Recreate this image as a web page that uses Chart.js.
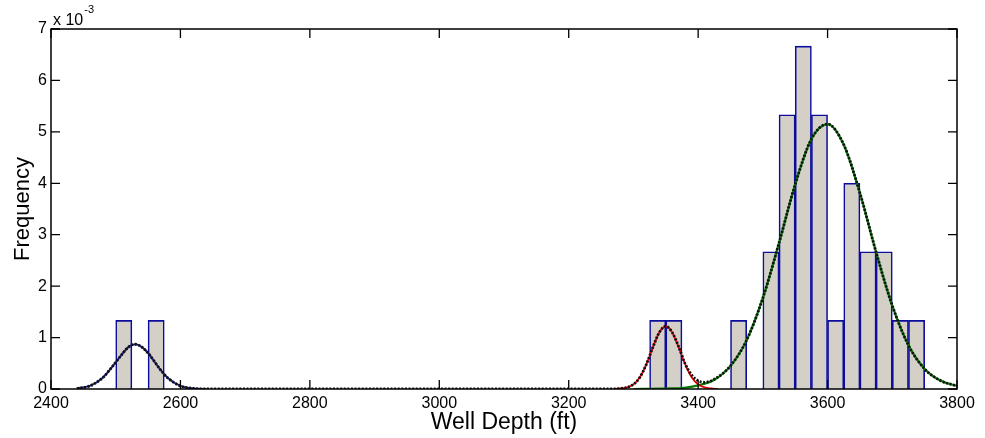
<!DOCTYPE html>
<html>
<head>
<meta charset="utf-8">
<script src="https://cdn.jsdelivr.net/npm/chart.js@4"></script>
<style>
  body { margin: 0; background: #fff; }
</style>
</head>
<body>
<canvas id="depthChart" width="985" height="438"></canvas>
<script>
// histogram bins (ft), frequency in units of 1e-3
const binWidth = 25;
const binStarts = [2500, 2550, 3325, 3350, 3450, 3500, 3525, 3550, 3575, 3600, 3625, 3650, 3675, 3700, 3725];
const binFreq = [1.333, 1.333, 1.333, 1.333, 1.333, 2.667, 5.333, 6.667, 5.333, 1.333, 4.0, 2.667, 2.667, 1.333, 1.333];

// fitted curves
const mixDepth = [2440, 2460, 2480, 2500, 2510, 2520, 2530, 2540, 2550, 2560, 2570, 2580, 2600, 2620, 2640,
  3260, 3280, 3290, 3300, 3310, 3320, 3330, 3340, 3350, 3360, 3370, 3380, 3390, 3400, 3410,
  3425, 3450, 3475, 3500, 3525, 3550, 3575, 3600, 3625, 3650, 3675, 3700, 3725, 3750, 3775, 3800];
const mixFreq = [0.01, 0.06, 0.22, 0.52, 0.68, 0.82, 0.87, 0.82, 0.70, 0.53, 0.36, 0.22, 0.06, 0.01, 0,
  0, 0.01, 0.03, 0.09, 0.23, 0.48, 0.81, 1.10, 1.22, 1.10, 0.82, 0.49, 0.27, 0.16, 0.13,
  0.19, 0.45, 0.95, 1.77, 2.84, 3.98, 4.86, 5.15, 4.75, 3.81, 2.66, 1.62, 0.85, 0.39, 0.16, 0.06];

const comp1Depth = [2440, 2460, 2480, 2500, 2510, 2520, 2530, 2540, 2550, 2560, 2570, 2580, 2600, 2620, 2640];
const comp1Freq = [0.01, 0.06, 0.22, 0.52, 0.68, 0.82, 0.87, 0.82, 0.70, 0.53, 0.36, 0.22, 0.06, 0.01, 0];

const comp2Depth = [3270, 3280, 3290, 3300, 3310, 3320, 3330, 3340, 3350, 3360, 3370, 3380, 3390, 3400, 3410, 3420, 3430];
const comp2Freq = [0, 0.01, 0.03, 0.09, 0.23, 0.48, 0.81, 1.10, 1.22, 1.10, 0.81, 0.48, 0.23, 0.09, 0.03, 0.01, 0];

const comp3Depth = [3300, 3350, 3375, 3400, 3425, 3450, 3475, 3500, 3525, 3550, 3575, 3600, 3625, 3650, 3675, 3700, 3725, 3750, 3775, 3800];
const comp3Freq = [0, 0.01, 0.02, 0.07, 0.18, 0.45, 0.95, 1.77, 2.84, 3.98, 4.86, 5.15, 4.75, 3.81, 2.66, 1.62, 0.85, 0.39, 0.16, 0.06];

const xTicks = [2400, 2600, 2800, 3000, 3200, 3400, 3600, 3800];
const yTicks = [0, 1, 2, 3, 4, 5, 6, 7];

const FONT = "'Liberation Sans', Arial, Helvetica, sans-serif";

function pairs(xs, ys) {
  return xs.map((x, i) => ({ x: x, y: ys[i] }));
}

function curve(xs, ys, color, width, order, dash) {
  return {
    type: "line",
    data: pairs(xs, ys),
    borderColor: color,
    borderWidth: width,
    borderDash: dash || [],
    pointRadius: 0,
    fill: false,
    cubicInterpolationMode: "monotone",
    order: order,
  };
}

// MATLAB style box with inward ticks on all four sides + exponent label
const boxPlugin = {
  id: "matlabBox",
  afterDatasetsDraw(chart) {
    const ctx = chart.ctx;
    const a = chart.chartArea;
    const xs = chart.scales.x;
    const ys = chart.scales.y;
    const len = 9;
    ctx.save();
    ctx.strokeStyle = "#000";
    ctx.lineWidth = 1.5;
    ctx.strokeRect(a.left, a.top, a.right - a.left, a.bottom - a.top);
    ctx.lineWidth = 1.3;
    ctx.beginPath();
    xTicks.forEach((v) => {
      const px = xs.getPixelForValue(v);
      ctx.moveTo(px, a.bottom);
      ctx.lineTo(px, a.bottom - len);
      ctx.moveTo(px, a.top);
      ctx.lineTo(px, a.top + len);
    });
    yTicks.forEach((v) => {
      const py = ys.getPixelForValue(v);
      ctx.moveTo(a.left, py);
      ctx.lineTo(a.left + len, py);
      ctx.moveTo(a.right, py);
      ctx.lineTo(a.right - len, py);
    });
    ctx.stroke();

    ctx.fillStyle = "#000";
    ctx.textBaseline = "alphabetic";
    ctx.textAlign = "left";
    ctx.font = "16px " + FONT;
    ctx.fillText("x 10", a.left + 2, a.top - 4);
    const w = ctx.measureText("x 10").width;
    ctx.font = "11px " + FONT;
    ctx.fillText("-3", a.left + 3 + w, a.top - 16);
    ctx.restore();
  },
};

const config = {
  type: "bar",
  data: {
    datasets: [
      {
        type: "bar",
        data: pairs(binStarts.map((s) => s + binWidth / 2), binFreq),
        backgroundColor: "#d4d0c8",
        borderColor: "#0c0c9c",
        borderWidth: 1.6,
        borderSkipped: "start",
        barPercentage: 1,
        categoryPercentage: 1,
        order: 10,
      },
      curve(comp1Depth, comp1Freq, "#1c1c80", 2, 5),
      curve(comp3Depth, comp3Freq, "#007a00", 2.2, 4),
      curve(comp2Depth, comp2Freq, "#e00000", 1.8, 3),
      curve(mixDepth, mixFreq, "#111111", 2.8, 1, [2, 1.6]),
    ],
  },
  options: {
    responsive: false,
    animation: false,
    layout: {
      padding: { top: 29, right: 28, left: 0, bottom: 0 },
    },
    scales: {
      x: {
        type: "linear",
        min: 2400,
        max: 3800,
        offset: false,
        grid: { display: false, drawTicks: false },
        border: { display: false },
        ticks: {
          stepSize: 200,
          maxRotation: 0,
          autoSkip: false,
          padding: 5,
          color: "#000",
          font: { family: FONT, size: 16 },
          callback: (v) => String(v),
        },
        title: {
          display: true,
          text: "Well Depth (ft)",
          color: "#000",
          font: { family: FONT, size: 23 },
          padding: { top: 0, bottom: 2 },
        },
        afterFit(scale) {
          scale.height = 49;
        },
      },
      y: {
        min: 0,
        max: 7,
        grid: { display: false, drawTicks: false },
        border: { display: false },
        ticks: {
          stepSize: 1,
          padding: 4,
          color: "#000",
          font: { family: FONT, size: 16 },
          callback: (v) => String(v),
        },
        title: {
          display: true,
          text: "Frequency",
          color: "#000",
          font: { family: FONT, size: 22 },
          padding: { top: 10, bottom: 0 },
        },
        afterFit(scale) {
          scale.width = 51;
        },
      },
    },
    plugins: {
      legend: { display: false },
      tooltip: { enabled: false },
    },
  },
  plugins: [boxPlugin],
};

const depthChart = new Chart(document.getElementById("depthChart"), config);
</script>
</body>
</html>
